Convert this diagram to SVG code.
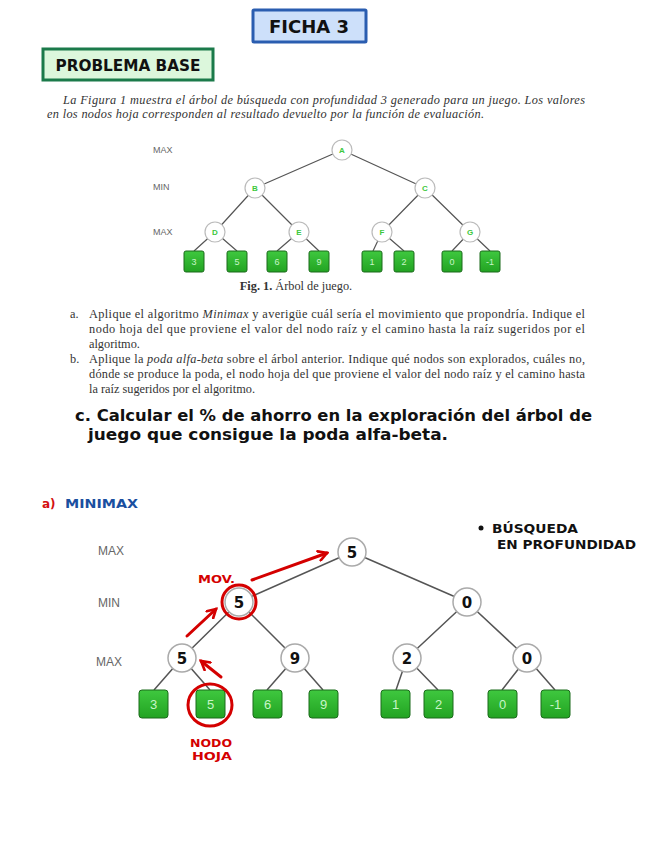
<svg xmlns="http://www.w3.org/2000/svg" width="656" height="848" viewBox="0 0 656 848">
<defs>
<linearGradient id="lg" x1="0" y1="0" x2="0" y2="1"><stop offset="0" stop-color="#3fc83f"/><stop offset="1" stop-color="#22a322"/></linearGradient>
<marker id="ra" viewBox="0 0 10 10" refX="8" refY="5" markerWidth="4" markerHeight="4" orient="auto"><path d="M1,1 L8,5 L1,9" fill="none" stroke="#d40000" stroke-width="2.2" stroke-linecap="round"/></marker>
</defs>
<style>
.hand{font-family:"DejaVu Sans",sans-serif;font-weight:bold}
.para{font-family:"Liberation Serif",serif;font-size:12.3px;fill:#333}
.lvl1{font-family:"Liberation Sans",sans-serif;font-size:9px;fill:#666}
.lvl2{font-family:"Liberation Sans",sans-serif;font-size:12px;fill:#666}
.n1 circle{fill:#fff;stroke:#bbb;stroke-width:1.2}
.n1 text{font-family:"Liberation Sans",sans-serif;font-size:8px;font-weight:bold;fill:#3cc83c;text-anchor:middle}
.lf rect{fill:url(#lg);stroke:#1b6b1b;stroke-width:1}
.lf1 text{font-family:"Liberation Sans",sans-serif;font-size:9px;fill:#c8f5c8;text-anchor:middle}
.lf2 text{font-family:"Liberation Sans",sans-serif;font-size:13px;fill:#c8f5c8;text-anchor:middle}
.n2 circle{fill:#fff;stroke:#aaa;stroke-width:1.5}
.n2 text{font-family:"DejaVu Sans",sans-serif;font-size:15px;font-weight:bold;fill:#111;text-anchor:middle}
.edge{stroke:#555;stroke-width:1.2;fill:none}
.edge2{stroke:#555;stroke-width:1.5;fill:none}
.red{stroke:#d40000;stroke-width:3;fill:none;stroke-linecap:round}
</style>
<rect width="656" height="848" fill="#fff"/>
<g id="title">
<rect x="253" y="10" width="113" height="32" fill="#cde0fa" stroke="#2a5db0" stroke-width="3" rx="1"/>
<text x="309" y="33" class="hand" font-size="18" text-anchor="middle" fill="#111">FICHA 3</text>
</g>
<g id="problema">
<rect x="43" y="49" width="170" height="31" fill="#dcf7dc" stroke="#1b7a4a" stroke-width="3"/>
<text x="128" y="71" class="hand" font-size="15" text-anchor="middle" fill="#111" textLength="145" lengthAdjust="spacingAndGlyphs">PROBLEMA BASE</text>
</g>
<g id="enunciado">
<text x="63" y="104" class="para" font-style="italic" textLength="522" lengthAdjust="spacing">La Figura 1 muestra el árbol de búsqueda con profundidad 3 generado para un juego. Los valores</text>
<text x="47" y="118" class="para" font-style="italic" textLength="437" lengthAdjust="spacing">en los nodos hoja corresponden al resultado devuelto por la función de evaluación.</text>
</g>
<g id="fig1-levels">
<text x="153" y="153" class="lvl1">MAX</text>
<text x="153" y="190" class="lvl1">MIN</text>
<text x="153" y="235" class="lvl1">MAX</text>
</g>
<g id="fig1-edges">
<path class="edge" d="M342,150 L255,188 M342,150 L425,188 M255,188 L215,232 M255,188 L299,232 M425,188 L382,232 M425,188 L470,232 M215,232 L194,251 M215,232 L237,251 M299,232 L277,251 M299,232 L319,251 M382,232 L373,251 M382,232 L404,251 M470,232 L452,251 M470,232 L490,251"/>
</g>
<g id="A" class="n1"><circle cx="342" cy="150" r="10"/><text x="342" y="153">A</text></g>
<g id="B" class="n1"><circle cx="255" cy="188" r="10"/><text x="255" y="191">B</text></g>
<g id="C" class="n1"><circle cx="425" cy="188" r="10"/><text x="425" y="191">C</text></g>
<g id="D" class="n1"><circle cx="215" cy="232" r="10"/><text x="215" y="235">D</text></g>
<g id="E" class="n1"><circle cx="299" cy="232" r="10"/><text x="299" y="235">E</text></g>
<g id="F" class="n1"><circle cx="382" cy="232" r="10"/><text x="382" y="235">F</text></g>
<g id="G" class="n1"><circle cx="470" cy="232" r="10"/><text x="470" y="235">G</text></g>
<g id="f1-l3" class="lf lf1"><rect x="184" y="251" width="20" height="21" rx="2"/><text x="194" y="265">3</text></g>
<g id="f1-l5" class="lf lf1"><rect x="227" y="251" width="20" height="21" rx="2"/><text x="237" y="265">5</text></g>
<g id="f1-l6" class="lf lf1"><rect x="267" y="251" width="20" height="21" rx="2"/><text x="277" y="265">6</text></g>
<g id="f1-l9" class="lf lf1"><rect x="309" y="251" width="20" height="21" rx="2"/><text x="319" y="265">9</text></g>
<g id="f1-l1" class="lf lf1"><rect x="362" y="251" width="20" height="21" rx="2"/><text x="372" y="265">1</text></g>
<g id="f1-l2" class="lf lf1"><rect x="394" y="251" width="20" height="21" rx="2"/><text x="404" y="265">2</text></g>
<g id="f1-l0" class="lf lf1"><rect x="442" y="251" width="20" height="21" rx="2"/><text x="452" y="265">0</text></g>
<g id="f1-lm1" class="lf lf1"><rect x="480" y="251" width="20" height="21" rx="2"/><text x="490" y="265">-1</text></g>
<g id="caption">
<text x="296" y="290" class="para" text-anchor="middle" font-size="10"><tspan font-weight="bold">Fig. 1.</tspan> Árbol de juego.</text>
</g>
<g id="items" class="para">
<text x="70" y="318">a.</text>
<text x="89" y="318" textLength="496" lengthAdjust="spacing">Aplique el algoritmo <tspan font-style="italic">Minimax</tspan> y averigüe cuál sería el movimiento que propondría. Indique el</text>
<text x="89" y="333" textLength="496" lengthAdjust="spacing">nodo hoja del que proviene el valor del nodo raíz y el camino hasta la raíz sugeridos por el</text>
<text x="89" y="348">algoritmo.</text>
<text x="70" y="363">b.</text>
<text x="89" y="363" textLength="496" lengthAdjust="spacing">Aplique la <tspan font-style="italic">poda alfa-beta</tspan> sobre el árbol anterior. Indique qué nodos son explorados, cuáles no,</text>
<text x="89" y="378" textLength="496" lengthAdjust="spacing">dónde se produce la poda, el nodo hoja del que proviene el valor del nodo raíz y el camino hasta</text>
<text x="89" y="393">la raíz sugeridos por el algoritmo.</text>
</g>
<g id="item-c" class="hand" fill="#111">
<text x="75" y="421" font-size="16" textLength="517" lengthAdjust="spacingAndGlyphs">c. Calcular el % de ahorro en la exploración del árbol de</text>
<text x="88" y="440" font-size="16" textLength="360" lengthAdjust="spacingAndGlyphs">juego que consigue la poda alfa-beta.</text>
</g>
<g id="seccion-a" class="hand" font-size="12">
<text x="42" y="508" fill="#d41010">a)</text>
<text x="65" y="508" fill="#1a4fa0" textLength="73" lengthAdjust="spacingAndGlyphs">MINIMAX</text>
</g>
<g id="busqueda" class="hand" fill="#111" font-size="12">
<circle cx="481" cy="528" r="2.5" fill="#111"/>
<text x="492" y="533" textLength="86" lengthAdjust="spacingAndGlyphs">BÚSQUEDA</text>
<text x="497" y="549" textLength="139" lengthAdjust="spacingAndGlyphs">EN PROFUNDIDAD</text>
</g>
<g id="levels2">
<text x="98" y="555" class="lvl2">MAX</text>
<text x="98" y="607" class="lvl2">MIN</text>
<text x="96" y="666" class="lvl2">MAX</text>
</g>
<g id="edges2">
<path class="edge2" d="M352,552 L239,602 M352,552 L467,602 M239,602 L182,658 M239,602 L295,658 M467,602 L407,658 M467,602 L527,658 M182,658 L154,690 M182,658 L210,690 M295,658 L267,690 M295,658 L323,690 M407,658 L396,690 M407,658 L438,690 M527,658 L502,690 M527,658 L555,690"/>
</g>
<g id="root" class="n2"><circle cx="352" cy="552" r="14"/><text x="352" y="558">5</text></g>
<g id="min1" class="n2"><circle cx="239" cy="602" r="14"/><text x="239" y="608">5</text></g>
<g id="min2" class="n2"><circle cx="467" cy="602" r="14"/><text x="467" y="608">0</text></g>
<g id="max1" class="n2"><circle cx="182" cy="658" r="14"/><text x="182" y="664">5</text></g>
<g id="max2" class="n2"><circle cx="295" cy="658" r="14"/><text x="295" y="664">9</text></g>
<g id="max3" class="n2"><circle cx="407" cy="658" r="14"/><text x="407" y="664">2</text></g>
<g id="max4" class="n2"><circle cx="527" cy="658" r="14"/><text x="527" y="664">0</text></g>
<g id="l3" class="lf lf2"><rect x="139" y="690" width="29" height="28" rx="3"/><text x="153.5" y="709">3</text></g>
<g id="l5" class="lf lf2"><rect x="196" y="690" width="29" height="28" rx="3"/><text x="210.5" y="709">5</text></g>
<g id="l6" class="lf lf2"><rect x="253" y="690" width="29" height="28" rx="3"/><text x="267.5" y="709">6</text></g>
<g id="l9" class="lf lf2"><rect x="309" y="690" width="29" height="28" rx="3"/><text x="323.5" y="709">9</text></g>
<g id="l1" class="lf lf2"><rect x="381" y="690" width="29" height="28" rx="3"/><text x="395.5" y="709">1</text></g>
<g id="l2" class="lf lf2"><rect x="424" y="690" width="29" height="28" rx="3"/><text x="438.5" y="709">2</text></g>
<g id="l0" class="lf lf2"><rect x="488" y="690" width="29" height="28" rx="3"/><text x="502.5" y="709">0</text></g>
<g id="lm1" class="lf lf2"><rect x="541" y="690" width="29" height="28" rx="3"/><text x="555.5" y="709">-1</text></g>
<g id="annotations">
<path class="red" d="M252,580 L327,553" marker-end="url(#ra)"/>
<path class="red" d="M187,636 L216,609" marker-end="url(#ra)"/>
<path class="red" d="M221,677 L201,661" marker-end="url(#ra)"/>
<circle class="red" cx="239" cy="602" r="17"/>
<ellipse class="red" cx="210" cy="705" rx="22" ry="21"/>
<text x="198" y="583" class="hand" font-size="11" fill="#d40000" textLength="37" lengthAdjust="spacingAndGlyphs">MOV.</text>
<text x="190" y="747" class="hand" font-size="11" fill="#d40000" textLength="42" lengthAdjust="spacingAndGlyphs">NODO</text>
<text x="192" y="760" class="hand" font-size="11" fill="#d40000" textLength="40" lengthAdjust="spacingAndGlyphs">HOJA</text>
</g>
</svg>
